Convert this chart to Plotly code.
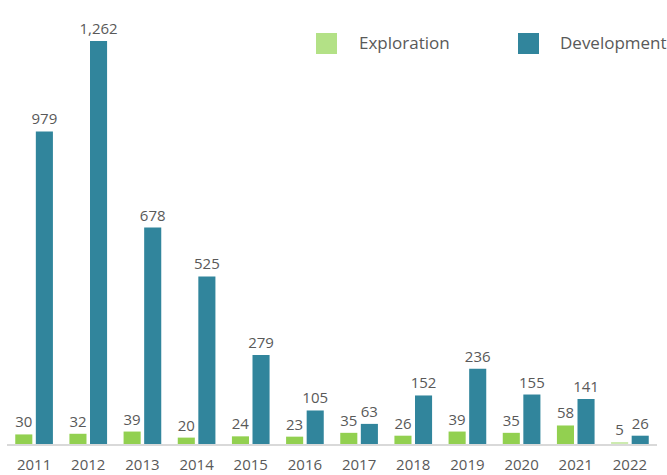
import plotly.graph_objects as go

years = ["2011", "2012", "2013", "2014", "2015", "2016", "2017", "2018", "2019", "2020", "2021", "2022"]
exploration = [30, 32, 39, 20, 24, 23, 35, 26, 39, 35, 58, 5]
development = [979, 1262, 678, 525, 279, 105, 63, 152, 236, 155, 141, 26]
series_names = ["Exploration", "Development"]

green = "#92D050"
green_pale = "#CDEBB0"
green_legend = "#B3E186"
teal = "#31859C"
text_col = "#595959"
font_fam = "Open Sans, sans-serif"

exp_colors = [green] * (len(years) - 1) + [green_pale]

fig = go.Figure()
fig.add_trace(go.Bar(
    x=years, y=exploration, name=series_names[0],
    marker=dict(color=exp_colors, line=dict(width=0)),
    text=[f"{v:,}" for v in exploration], textposition="outside",
    textfont=dict(size=15, color=text_col, family=font_fam),
    constraintext="none", cliponaxis=False,
))
fig.add_trace(go.Bar(
    x=years, y=development, name=series_names[1],
    marker=dict(color=teal, line=dict(width=0)),
    text=[f"{v:,}" for v in development], textposition="outside",
    textfont=dict(size=15, color=text_col, family=font_fam),
    constraintext="none", cliponaxis=False,
))

# Legend drawn as paper-positioned squares and labels
W, H = 667, 475
ml, mr, mt, mb = 7, 10, 20, 31
pw, ph = W - ml - mr, H - mt - mb
def px(x):
    return (x - ml) / pw
def py(y):
    return (H - mb - y) / ph

legend_items = [(series_names[0], green_legend, 316, 357), (series_names[1], teal, 518, 558)]
shapes, annotations = [], []
for name, col, sx, tx in legend_items:
    shapes.append(dict(type="rect", xref="paper", yref="paper",
                       x0=px(sx), x1=px(sx + 21), y0=py(54), y1=py(33),
                       fillcolor=col, line=dict(width=0)))
    annotations.append(dict(text=name, xref="paper", yref="paper", x=px(tx), y=py(43),
                            xanchor="left", yanchor="middle", showarrow=False,
                            font=dict(size=17, color=text_col, family=font_fam)))

fig.update_layout(
    width=W, height=H,
    margin=dict(l=ml, r=mr, t=mt, b=mb, autoexpand=False),
    barmode="group", bargap=0.24, bargroupgap=0.17,
    plot_bgcolor="white", paper_bgcolor="white",
    font=dict(family=font_fam, color=text_col, size=15),
    showlegend=False,
    shapes=shapes, annotations=annotations,
)
fig.update_xaxes(showgrid=False, showline=True, linecolor="#D9D9D9", linewidth=2,
                 ticks="", tickfont=dict(size=15, color=text_col), ticklabelstandoff=6,
                 automargin=False)
fig.update_yaxes(visible=False, range=[0, 1328])

fig.write_html("out.html", config={"displayModeBar": False},
               post_script="document.body.style.margin='0';document.body.style.overflow='hidden';")
